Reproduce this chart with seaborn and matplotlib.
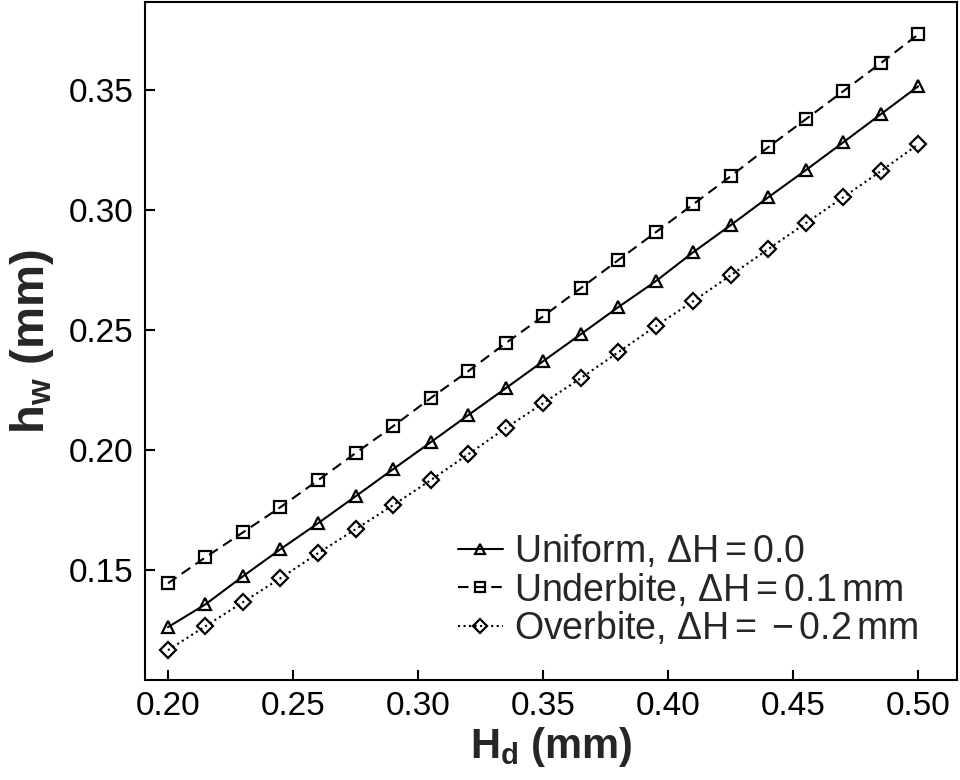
import numpy as np
import pandas as pd
import matplotlib
matplotlib.use("Agg")
import matplotlib.pyplot as plt
import seaborn as sns

sns.set_theme(style="ticks")
plt.rcParams['font.family'] = ['Liberation Sans', 'DejaVu Sans']
plt.rcParams['mathtext.fontset'] = 'custom'
plt.rcParams['mathtext.rm'] = 'Liberation Sans'
plt.rcParams['mathtext.it'] = 'Liberation Sans:italic'
plt.rcParams['mathtext.bf'] = 'Liberation Sans:bold'

hd = [0.200, 0.215, 0.230, 0.245, 0.260, 0.275, 0.290, 0.305, 0.320, 0.335, 0.350,
      0.365, 0.380, 0.395, 0.410, 0.425, 0.440, 0.455, 0.470, 0.485, 0.500]
uniform = [0.1263, 0.1358, 0.1475, 0.1588, 0.1696, 0.1808, 0.1921, 0.2033, 0.2146, 0.2258, 0.2371,
           0.2483, 0.2596, 0.2704, 0.2825, 0.2938, 0.3054, 0.3167, 0.3283, 0.3400, 0.3517]
underbite = [0.1446, 0.1554, 0.1658, 0.1763, 0.1875, 0.1988, 0.2100, 0.2217, 0.2329, 0.2446, 0.2558,
             0.2675, 0.2792, 0.2908, 0.3025, 0.3142, 0.3263, 0.3379, 0.3496, 0.3613, 0.3733]
overbite = [0.1167, 0.1267, 0.1367, 0.1467, 0.1571, 0.1671, 0.1771, 0.1875, 0.1983, 0.2092, 0.2196,
            0.2300, 0.2408, 0.2517, 0.2621, 0.2729, 0.2838, 0.2946, 0.3054, 0.3163, 0.3275]
labels = [r'Uniform, $\mathrm{\Delta H = 0.0}$',
          r'Underbite, $\mathrm{\Delta H = 0.1\,mm}$',
          r'Overbite, $\mathrm{\Delta H =\;{-}\,0.2\,mm}$']
xticks = [0.20, 0.25, 0.30, 0.35, 0.40, 0.45, 0.50]
yticks = [0.15, 0.20, 0.25, 0.30, 0.35]

fig = plt.figure(figsize=(9.6, 7.8), dpi=100)
ax = fig.add_axes([0.151, 0.128, 0.846, 0.869])

series = [(uniform, '^', '-'), (underbite, 's', (0, (5, 3))), (overbite, 'D', ':')]
for (vals, mk, ls), lab in zip(series, labels):
    df = pd.DataFrame({'x': hd, 'y': vals})
    ms = 9 if mk != 'D' else 8
    sns.lineplot(data=df, x='x', y='y', ax=ax, color='black', marker=mk,
                 markersize=ms, markerfacecolor='none', markeredgecolor='black',
                 markeredgewidth=1.6, linewidth=1.5, linestyle=ls, label=lab)

ax.set_xlim(0.1908, 0.5156)
ax.set_ylim(0.1042, 0.3867)
ax.set_xticks(xticks)
ax.set_yticks(yticks)
ax.set_xticklabels([f'{t:.2f}' for t in xticks])
ax.set_yticklabels([f'{t:.2f}' for t in yticks])
ax.tick_params(direction='in', length=7, width=1.5, labelsize=24, pad=8,
               colors='black')
for s in ax.spines.values():
    s.set_linewidth(1.5)
    s.set_color('black')

ax.set_xlabel(r'$\mathbf{H_d}$ (mm)', fontsize=30, fontweight='bold', labelpad=2)
ax.set_ylabel(r'$\mathbf{h_w}$ (mm)', fontsize=34, fontweight='bold', labelpad=9)

ax.legend(loc='lower right', bbox_to_anchor=(0.98, 0.015), frameon=False,
          fontsize=27, handlelength=1.2, handletextpad=0.3, labelspacing=0.05,
          borderaxespad=0.2, markerscale=0.85)

fig.savefig('out.png', dpi=100)
